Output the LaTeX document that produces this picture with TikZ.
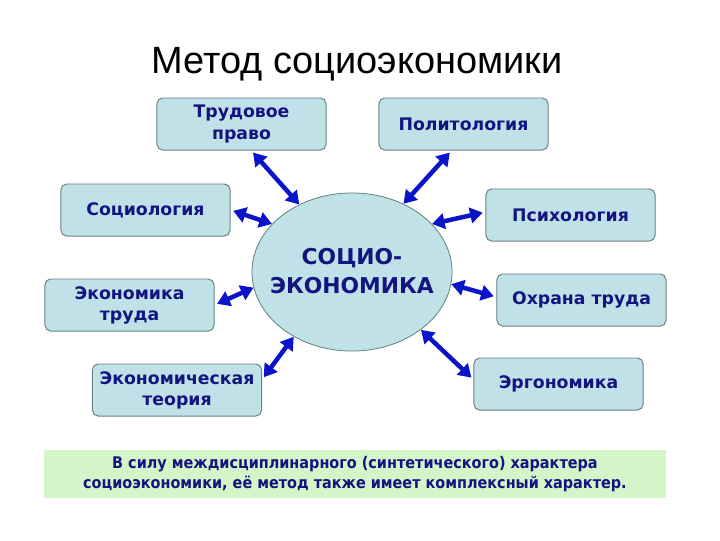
\documentclass[tikz,border=0pt]{standalone}
\usepackage{fontspec}
\setmainfont{DejaVu Sans}
\newfontfamily\titlefont{Liberation Sans}
\newfontfamily\notefont{DejaVu Sans Condensed}
\usetikzlibrary{arrows.meta, calc, shapes.geometric}

\definecolor{boxfill}{RGB}{192,225,231}
\definecolor{boxline}{RGB}{105,130,130}
\definecolor{navytext}{RGB}{20,20,128}
\definecolor{arrowblue}{RGB}{10,20,200}
\definecolor{notegreen}{RGB}{212,245,200}

\begin{document}
\begin{tikzpicture}[x=0.025cm, y=-0.025cm,
    area/.style={draw=boxline, fill=boxfill, line width=0.7pt,
      rounded corners=4pt, minimum width=4.225cm, minimum height=1.3cm,
      align=center, text=navytext,
      font=\bfseries\fontsize{12.3}{15}\selectfont},
    link/.style={{Triangle[length=9pt,width=11pt]}-{Triangle[length=9pt,width=11pt]},
      line width=3.2pt, draw=arrowblue, shorten <=2pt}]
    \useasboundingbox (0,0) rectangle (720,540);

    \node (title) at (357,64) {\titlefont\fontsize{27}{30}\selectfont Метод социоэкономики};

    % centre
    \node (eco) at (352,272) [ellipse, draw=boxline, fill=boxfill,
      line width=0.6pt, minimum width=5cm, minimum height=3.95cm,
      inner sep=0pt] {};
    \node (ecotext) at (352,271) [align=center, text=navytext,
      font=\bfseries\fontsize{15.5}{20.5}\selectfont] {СОЦИО-\\ЭКОНОМИКА};

    % left column
    \node (trud)   at (241.5,124) [area] {Трудовое\\право};
    \node (socio)  at (145.5,210) [area] {Социология};
    \node (ektrud) at (129.5,305) [area] {Экономика\\труда};
    \node (ekteor) at (177,390)   [area] {Экономическая\\теория};

    % right column
    \node (polit)  at (463.5,124) [area] {Политология};
    \node (psych)  at (570.5,215) [area] {Психология};
    \node (ohrana) at (581.5,300) [area] {Охрана труда};
    \node (ergo)   at (558.5,384) [area] {Эргономика};

    \foreach \b/\a/\e in {trud/-70/128, polit/-114/53, socio/0/149,
      psych/178/31, ektrud/0/189, ohrana/178/-7, ekteor/7/228, ergo/177/-40}{
      \draw[link] (\b.\a) -- (eco.\e);
    }

    \node (note) at (355,474) [fill=notegreen, minimum width=15.55cm,
      minimum height=1.2cm, align=center, text=navytext,
      font=\notefont\bfseries\fontsize{11.4}{14.5}\selectfont]
      {В силу междисциплинарного (синтетического) характера\\
       социоэкономики, её метод также имеет комплексный характер.};
\end{tikzpicture}
\end{document}
